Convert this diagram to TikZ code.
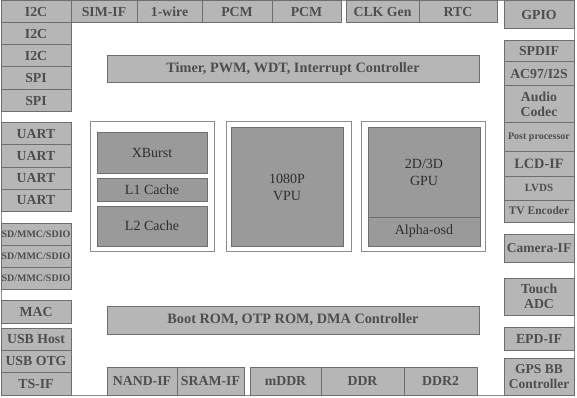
\documentclass[tikz,border=0pt]{standalone}
\usepackage{fontspec}
\setmainfont{Liberation Serif}
\usetikzlibrary{positioning}
\definecolor{periphfill}{HTML}{B6B6B6}
\definecolor{corefill}{HTML}{9A9A9A}
\definecolor{edgegray}{HTML}{6E6E6E}
\definecolor{framegray}{HTML}{8C8C8C}
\definecolor{labelgray}{HTML}{4E4E4E}
\definecolor{coretext}{HTML}{2E2E2E}
\tikzset{
  blk/.style 2 args={minimum width=#1pt, minimum height=#2pt},
  periph/.style={draw=edgegray, fill=periphfill, line width=1pt, inner sep=0pt,
    outer sep=0pt, anchor=north west, align=center, text=labelgray,
    font=\bfseries\fontsize{13.8}{15.5}\selectfont},
  tiny/.style={font=\bfseries\fontsize{10}{12}\selectfont},
  bar/.style={font=\bfseries\fontsize{14.3}{16}\selectfont},
  holder/.style={draw=framegray, fill=white, line width=1pt, inner sep=0pt,
    outer sep=0pt, anchor=north west},
  core/.style={draw=edgegray, fill=corefill, line width=1pt, inner sep=0pt,
    outer sep=0pt, anchor=north west, align=center, text=coretext,
    font=\fontsize{14}{17}\selectfont}
}

\begin{document}
\begin{tikzpicture}[x=1pt, y=-1pt, node distance=0pt]
  \useasboundingbox (0,0) rectangle (577,398);
  \draw[framegray, line width=1pt] (1,1) rectangle (574.5,395.5);

  % top row
  \node[periph, blk={70}{22}] (i2ca) at (1,1) {I2C};
  \node[periph, blk={66}{22}, right=of i2ca] (simif) {SIM-IF};
  \node[periph, blk={65}{22}, right=of simif] (onewire) {1-wire};
  \node[periph, blk={70}{22}, right=of onewire] (pcma) {PCM};
  \node[periph, blk={69}{22}, right=of pcma] (pcmb) {PCM};
  \node[periph, blk={73}{22}] (clkgen) at (346,1) {CLK Gen};
  \node[periph, blk={78}{22}, right=of clkgen] (rtc) {RTC};
  \node[periph, blk={70}{28}] (gpio) at (504,1) {GPIO};

  % left column
  \node[periph, blk={70}{22}, below=of i2ca] (i2cb) {I2C};
  \node[periph, blk={70}{22}, below=of i2cb] (i2cc) {I2C};
  \node[periph, blk={70}{23}, below=of i2cc] (spia) {SPI};
  \node[periph, blk={70}{22}, below=of spia] (spib) {SPI};
  \node[periph, blk={70}{22}, below=11pt of spib] (uarta) {UART};
  \node[periph, blk={70}{22}, below=of uarta] (uartb) {UART};
  \node[periph, blk={70}{22}, below=of uartb] (uartc) {UART};
  \node[periph, blk={70}{22}, below=of uartc] (uartd) {UART};
  \node[periph, tiny, blk={70}{22}, below=12pt of uartd] (sdioa) {SD/MMC/SDIO};
  \node[periph, tiny, blk={70}{22}, below=of sdioa] (sdiob) {SD/MMC/SDIO};
  \node[periph, tiny, blk={70}{22}, below=of sdiob] (sdioc) {SD/MMC/SDIO};
  \node[periph, blk={70}{23}, below=11pt of sdioc] (mac) {MAC};
  \node[periph, blk={70}{22}, below=5pt of mac] (usbhost) {USB Host};
  \node[periph, blk={70}{22}, below=of usbhost] (usbotg) {USB OTG};
  \node[periph, blk={70}{23}, below=of usbotg] (tsif) {TS-IF};

  % right column
  \node[periph, blk={70}{21}, below=12pt of gpio] (spdif) {SPDIF};
  \node[periph, blk={70}{24}, below=of spdif] (ac97) {AC97/I2S};
  \node[periph, blk={70}{37}, below=of ac97] (codec) {Audio\\Codec};
  \node[periph, tiny, blk={70}{28}, below=of codec] (postproc) {Post processor};
  \node[periph, blk={70}{25}, below=of postproc, font=\bfseries\fontsize{14.3}{16}\selectfont] (lcdif) {LCD-IF};
  \node[periph, blk={70}{24}, below=of lcdif, font=\bfseries\fontsize{11}{13}\selectfont] (lvds) {LVDS};
  \node[periph, blk={70}{22}, below=of lvds, font=\bfseries\fontsize{11.5}{13}\selectfont] (tvenc) {TV Encoder};
  \node[periph, blk={70}{28}, below=12pt of tvenc, font=\bfseries\fontsize{13.5}{15}\selectfont] (camif) {Camera-IF};
  \node[periph, blk={70}{37}, below=16pt of camif] (touch) {Touch\\ADC};
  \node[periph, blk={70}{23}, below=12pt of touch] (epdif) {EPD-IF};
  \node[periph, blk={70}{37}, below=8pt of epdif, font=\bfseries\fontsize{13.5}{15.5}\selectfont] (gps) {GPS BB\\Controller};

  % bus bars
  \node[periph, bar, blk={372}{27}] (timer) at (107,56) {Timer, PWM, WDT, Interrupt Controller};
  \node[periph, bar, blk={372}{28}] (bootrom) at (107,306) {Boot ROM, OTP ROM, DMA Controller};

  % memory interfaces
  \node[periph, blk={70}{28}] (nandif) at (107,367) {NAND-IF};
  \node[periph, blk={67}{28}, right=of nandif] (sramif) {SRAM-IF};
  \node[periph, blk={71}{28}] (mddr) at (250,367) {mDDR};
  \node[periph, blk={83}{28}, right=of mddr] (ddr) {DDR};
  \node[periph, blk={73}{28}, right=of ddr] (ddrtwo) {DDR2};

  % processing cores
  \node[holder, blk={124}{129}] (cpuframe) at (90,122) {};
  \node[holder, blk={125}{129}] (vpuframe) at (226,122) {};
  \node[holder, blk={124}{129}] (gpuframe) at (361,122) {};
  \node[core, blk={110}{40}] (xburst) at (97,133) {XBurst};
  \node[core, blk={110}{23}] (lonecache) at (97,178) {L1 Cache};
  \node[core, blk={110}{40}] (ltwocache) at (97,206) {L2 Cache};
  \node[core, blk={112}{118}] (vpu) at (231,128) {1080P\\VPU};
  \node[core, blk={112}{89}] (gpu) at (368,128) {2D/3D\\GPU};
  \node[core, blk={112}{29}, below=of gpu] (alphaosd) {Alpha-osd};
\end{tikzpicture}
\end{document}
